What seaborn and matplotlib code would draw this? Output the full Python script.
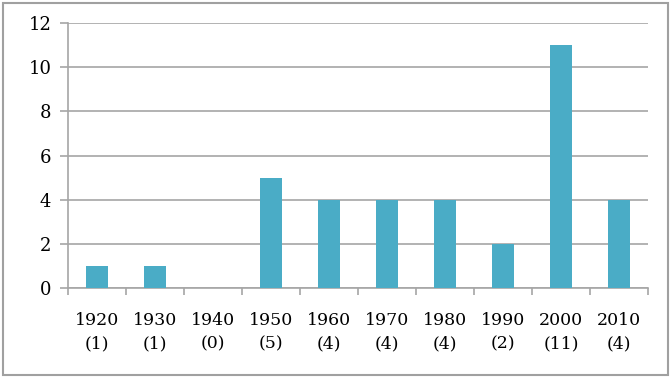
import matplotlib
matplotlib.use("Agg")
import matplotlib.pyplot as plt
import seaborn as sns
import pandas as pd
from matplotlib.patches import Rectangle
from matplotlib.ticker import MultipleLocator, FixedLocator

decades = ["1920", "1930", "1940", "1950", "1960", "1970", "1980", "1990", "2000", "2010"]
counts = [1, 1, 0, 5, 4, 4, 4, 2, 11, 4]
labels = [f"{d}\n({c})" for d, c in zip(decades, counts)]

df = pd.DataFrame({"decade": labels, "count": counts})

sns.set_style("white")
plt.rcParams["font.family"] = ["DejaVu Serif"]

fig = plt.figure(figsize=(6.72, 3.80), dpi=100)
ax = fig.add_axes([68 / 672, 1 - 288 / 380, 580 / 672, 265 / 380])

sns.barplot(data=df, x="decade", y="count", color="#4AACC6", saturation=1,
            width=0.39, linewidth=0, ax=ax, zorder=3)

grid = "#A6A6A6"
ax.set_ylim(0, 12)
ax.set_xlim(-0.5, 9.5)
ax.yaxis.set_major_locator(MultipleLocator(2))
ax.grid(axis="y", color=grid, linewidth=1.2, zorder=0)
ax.set_axisbelow(True)
for s in ["top", "right"]:
    ax.spines[s].set_visible(False)
for s in ["left", "bottom"]:
    ax.spines[s].set_color(grid)
    ax.spines[s].set_linewidth(1.2)

ax.tick_params(axis="y", direction="out", length=6, width=1.2, color=grid,
               labelsize=13, labelcolor="black", pad=6, left=True)
ax.tick_params(axis="x", which="major", length=0, labelsize=12.5,
               labelcolor="black", pad=17)
for t in ax.get_xticklabels():
    t.set_linespacing(1.5)
ax.xaxis.set_minor_locator(FixedLocator([i - 0.5 for i in range(11)]))
ax.tick_params(axis="x", which="minor", direction="out", length=5, width=1.2,
               color=grid, bottom=True)
ax.set_xlabel("")
ax.set_ylabel("")

fig.patches.append(Rectangle((3 / 672, 5 / 380), 665 / 672, 372 / 380,
                             transform=fig.transFigure, fill=False,
                             edgecolor="#A0A0A0", linewidth=1.5))

fig.savefig("out.png", dpi=100)
